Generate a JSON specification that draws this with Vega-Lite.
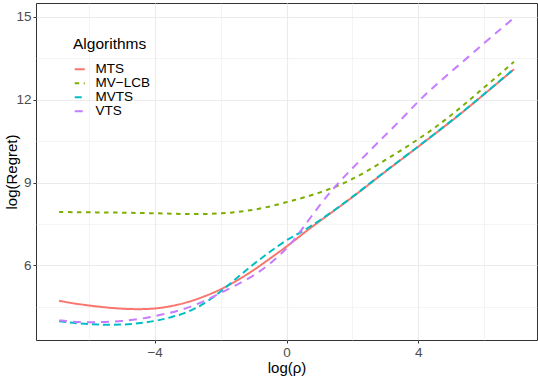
{
  "$schema": "https://vega.github.io/schema/vega-lite/v6.json",
  "width": 501,
  "height": 337,
  "autosize": {"type": "none"},
  "padding": {"left": 36, "top": 3, "right": 1, "bottom": 36},
  "background": "white",
  "config": {
    "view": {"stroke": "#333333", "strokeWidth": 1},
    "font": "Liberation Sans",
    "legend": {"rowPadding": -3, "titlePadding": 10}
  },
  "data": {
    "values": [
      {"x": -6.9, "MTS": 4.72, "MV−LCB": 7.93, "MVTS": 3.98, "VTS": 4.01},
      {"x": -6.5, "MTS": 4.63, "MV−LCB": 7.93, "MVTS": 3.92, "VTS": 3.96},
      {"x": -6.0, "MTS": 4.55, "MV−LCB": 7.92, "MVTS": 3.87, "VTS": 3.94},
      {"x": -5.5, "MTS": 4.48, "MV−LCB": 7.92, "MVTS": 3.85, "VTS": 3.95},
      {"x": -5.0, "MTS": 4.43, "MV−LCB": 7.91, "MVTS": 3.85, "VTS": 3.98},
      {"x": -4.5, "MTS": 4.41, "MV−LCB": 7.90, "MVTS": 3.90, "VTS": 4.05},
      {"x": -4.0, "MTS": 4.43, "MV−LCB": 7.89, "MVTS": 3.98, "VTS": 4.16},
      {"x": -3.5, "MTS": 4.52, "MV−LCB": 7.87, "MVTS": 4.12, "VTS": 4.29},
      {"x": -3.0, "MTS": 4.66, "MV−LCB": 7.86, "MVTS": 4.30, "VTS": 4.46},
      {"x": -2.5, "MTS": 4.87, "MV−LCB": 7.86, "MVTS": 4.60, "VTS": 4.70},
      {"x": -2.0, "MTS": 5.12, "MV−LCB": 7.88, "MVTS": 5.05, "VTS": 5.00},
      {"x": -1.5, "MTS": 5.45, "MV−LCB": 7.93, "MVTS": 5.55, "VTS": 5.30},
      {"x": -1.0, "MTS": 5.82, "MV−LCB": 8.01, "MVTS": 6.05, "VTS": 5.62},
      {"x": -0.5, "MTS": 6.25, "MV−LCB": 8.13, "MVTS": 6.50, "VTS": 6.05},
      {"x": 0.0, "MTS": 6.68, "MV−LCB": 8.29, "MVTS": 6.92, "VTS": 6.60},
      {"x": 0.25, "MTS": 6.91, "MV−LCB": 8.37, "MVTS": 7.08, "VTS": 6.95},
      {"x": 0.5, "MTS": 7.15, "MV−LCB": 8.45, "MVTS": 7.24, "VTS": 7.36},
      {"x": 1.0, "MTS": 7.60, "MV−LCB": 8.63, "MVTS": 7.62, "VTS": 8.18},
      {"x": 1.5, "MTS": 8.03, "MV−LCB": 8.85, "MVTS": 8.04, "VTS": 8.90},
      {"x": 2.0, "MTS": 8.47, "MV−LCB": 9.12, "MVTS": 8.48, "VTS": 9.52},
      {"x": 2.5, "MTS": 8.93, "MV−LCB": 9.45, "MVTS": 8.94, "VTS": 10.12},
      {"x": 3.0, "MTS": 9.40, "MV−LCB": 9.82, "MVTS": 9.41, "VTS": 10.72},
      {"x": 3.5, "MTS": 9.85, "MV−LCB": 10.18, "MVTS": 9.86, "VTS": 11.30},
      {"x": 4.0, "MTS": 10.30, "MV−LCB": 10.57, "MVTS": 10.31, "VTS": 11.95},
      {"x": 4.5, "MTS": 10.76, "MV−LCB": 10.98, "MVTS": 10.77, "VTS": 12.50},
      {"x": 5.0, "MTS": 11.22, "MV−LCB": 11.44, "MVTS": 11.23, "VTS": 13.02},
      {"x": 5.5, "MTS": 11.70, "MV−LCB": 11.93, "MVTS": 11.71, "VTS": 13.53},
      {"x": 6.0, "MTS": 12.20, "MV−LCB": 12.45, "MVTS": 12.21, "VTS": 14.05},
      {"x": 6.5, "MTS": 12.70, "MV−LCB": 12.95, "MVTS": 12.71, "VTS": 14.56},
      {"x": 6.9, "MTS": 13.10, "MV−LCB": 13.37, "MVTS": 13.11, "VTS": 14.96}
    ]
  },
  "transform": [
    {"fold": ["MTS", "MV−LCB", "MVTS", "VTS"], "as": ["algo", "y"]}
  ],
  "mark": {"type": "line", "strokeWidth": 2, "interpolate": "basis"},
  "encoding": {
    "x": {
      "field": "x",
      "type": "quantitative",
      "scale": {"domain": [-7.6, 7.6], "nice": false, "zero": false},
      "axis": {
        "values": [-6, -4, -2, 0, 2, 4, 6],
        "labelExpr": "datum.value % 4 === 0 ? datum.label : ''",
        "domain": false,
        "grid": true,
        "gridColor": "#EBEBEB",
        "gridWidth": {"condition": {"test": "datum.value % 4 === 0", "value": 1.1}, "value": 0.55},
        "tickColor": "#333333",
        "tickOpacity": {"condition": {"test": "datum.value % 4 === 0", "value": 1}, "value": 0},
        "tickSize": 3,
        "labelColor": "#4D4D4D",
        "labelFontSize": 13.5,
        "labelPadding": 2,
        "labelFlush": false,
        "title": "log(ρ)",
        "titleFontSize": 15,
        "titleFontWeight": "normal",
        "titleColor": "black",
        "titlePadding": 2
      }
    },
    "y": {
      "field": "y",
      "type": "quantitative",
      "scale": {"domain": [3.3, 15.5], "nice": false, "zero": false},
      "axis": {
        "values": [4.5, 6, 7.5, 9, 10.5, 12, 13.5, 15],
        "labelExpr": "datum.value % 3 === 0 ? datum.label : ''",
        "domain": false,
        "grid": true,
        "gridColor": "#EBEBEB",
        "gridWidth": {"condition": {"test": "datum.value % 3 === 0", "value": 1.1}, "value": 0.55},
        "tickColor": "#333333",
        "tickOpacity": {"condition": {"test": "datum.value % 3 === 0", "value": 1}, "value": 0},
        "tickSize": 3,
        "labelColor": "#4D4D4D",
        "labelFontSize": 13.5,
        "labelPadding": 2,
        "labelFlush": false,
        "title": "log(Regret)",
        "titleFontSize": 15,
        "titleFontWeight": "normal",
        "titleColor": "black",
        "titleX": -20,
        "titleY": 168.5,
        "titleAngle": 270,
        "titleAlign": "center",
        "titleBaseline": "alphabetic"
      }
    },
    "color": {
      "field": "algo",
      "type": "nominal",
      "scale": {
        "domain": ["MTS", "MV−LCB", "MVTS", "VTS"],
        "range": ["#F8766D", "#7CAE00", "#00BFC4", "#C77CFF"]
      },
      "legend": {
        "title": "Algorithms",
        "orient": "none",
        "legendX": 37,
        "legendY": 34,
        "padding": 0,
        "titleFontSize": 15.5,
        "titleFontWeight": "normal",
        "titleColor": "black",
        "titlePadding": 10,
        "labelFontSize": 13.5,
        "labelColor": "black",
        "labelOffset": 9,
        "symbolType": "stroke",
        "symbolSize": 100,
        "symbolStrokeWidth": 2,
        "rowPadding": -3
      }
    },
    "strokeDash": {
      "field": "algo",
      "type": "nominal",
      "scale": {
        "domain": ["MTS", "MV−LCB", "MVTS", "VTS"],
        "range": [[1, 0], [4.5, 4.5], [7, 4], [8, 6]]
      },
      "legend": {
        "title": "Algorithms",
        "orient": "none",
        "legendX": 37,
        "legendY": 34,
        "padding": 0,
        "titleFontSize": 15.5,
        "titleFontWeight": "normal",
        "titleColor": "black",
        "titlePadding": 10,
        "labelFontSize": 13.5,
        "labelColor": "black",
        "labelOffset": 9,
        "symbolType": "stroke",
        "symbolSize": 100,
        "symbolStrokeWidth": 2,
        "rowPadding": -3
      }
    }
  }
}
